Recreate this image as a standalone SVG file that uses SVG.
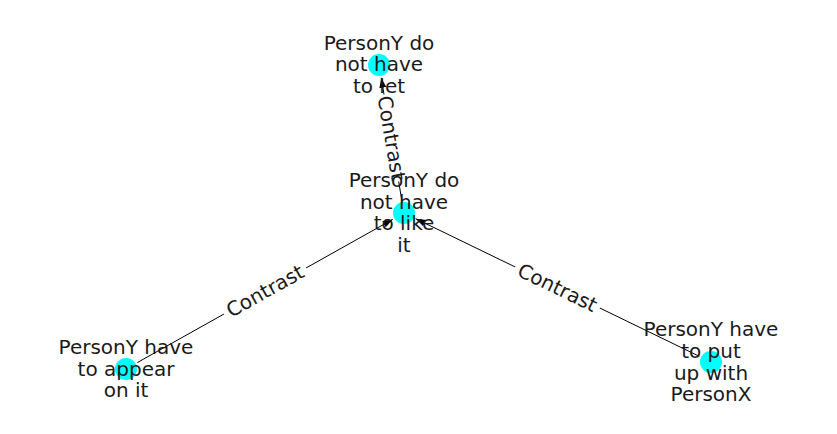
<svg xmlns="http://www.w3.org/2000/svg" width="837" height="434" viewBox="0 0 837 434">
<style>
.n{fill:#00ffff}
.t{font-family:"DejaVu Sans",sans-serif;font-size:20px;fill:#1a1a1a;text-anchor:middle}
.e{stroke:#000;stroke-width:1;fill:none}
.lb{fill:#fff}
</style>
<defs>
<marker id="ah" markerUnits="userSpaceOnUse" markerWidth="12" markerHeight="10" refX="10" refY="3.5" orient="auto">
<path d="M0,0 L10,3.5 L0,7 z" fill="#000"/>
</marker>
</defs>
<rect width="837" height="434" fill="#fff"/>
<g id="edges">
<line class="e" x1="401.8" y1="200.2" x2="381.2" y2="77.8" marker-end="url(#ah)"/>
<line class="e" x1="137.3" y1="362.6" x2="392.7" y2="219.4" marker-end="url(#ah)"/>
<line class="e" x1="699.3" y1="356.3" x2="415.7" y2="218.7" marker-end="url(#ah)"/>
</g>
<g id="edge-labels">
<g transform="translate(391.5,138) rotate(80.4)"><rect class="lb" x="-44" y="-12" width="88" height="24" rx="3"/><text class="t" x="0" y="7">Contrast</text></g>
<g transform="translate(265,291) rotate(-29.3)"><rect class="lb" x="-47" y="-12" width="94" height="24" rx="3"/><text class="t" x="0" y="7">Contrast</text></g>
<g transform="translate(557.5,287.5) rotate(25.9)"><rect class="lb" x="-47" y="-12" width="94" height="24" rx="3"/><text class="t" x="0" y="7">Contrast</text></g>
</g>
<g id="node-top"><circle class="n" cx="379" cy="65" r="11"/>
<text class="t" x="379" y="50">PersonY do</text><text class="t" x="379" y="71">not have</text><text class="t" x="379" y="93">to let</text></g>
<g id="node-center"><circle class="n" cx="404" cy="213" r="11"/>
<text class="t" x="404" y="187">PersonY do</text><text class="t" x="404" y="209">not have</text><text class="t" x="404" y="230">to like</text><text class="t" x="404" y="252">it</text></g>
<g id="node-left"><circle class="n" cx="126" cy="369" r="11"/>
<text class="t" x="126" y="354">PersonY have</text><text class="t" x="126" y="376">to appear</text><text class="t" x="126" y="397">on it</text></g>
<g id="node-right"><circle class="n" cx="711" cy="362" r="11"/>
<text class="t" x="711" y="336">PersonY have</text><text class="t" x="711" y="358">to put</text><text class="t" x="711" y="380">up with</text><text class="t" x="711" y="401">PersonX</text></g>
</svg>
